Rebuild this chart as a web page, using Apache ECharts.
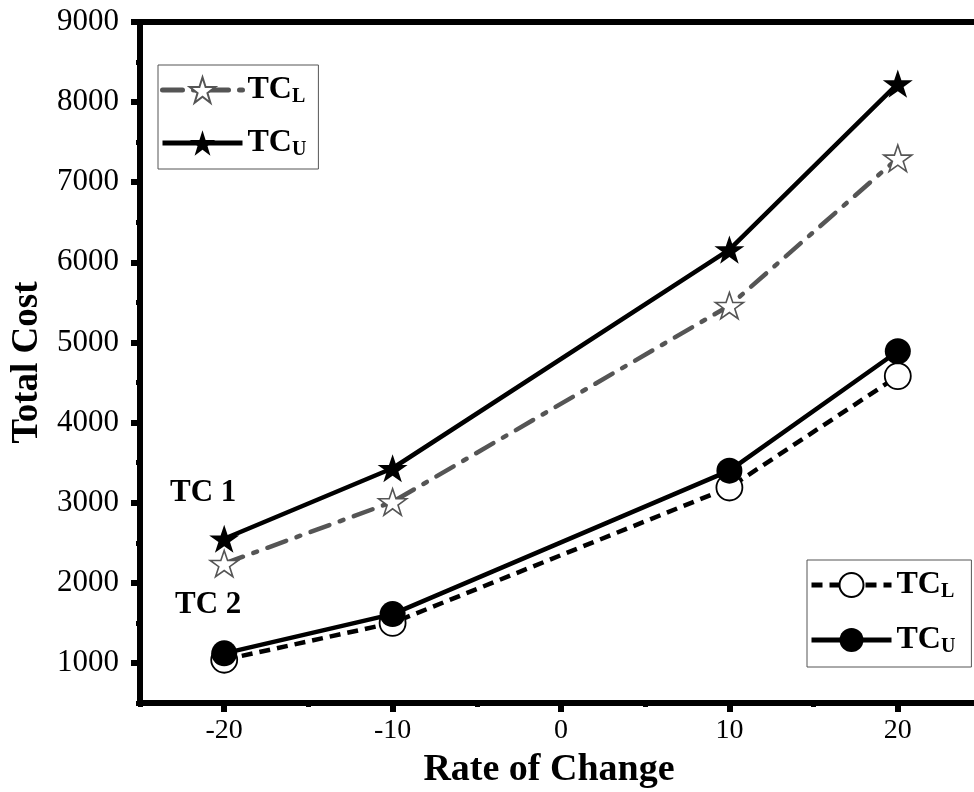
<!DOCTYPE html>
<html>
<head>
<meta charset="utf-8">
<script src="https://cdn.jsdelivr.net/npm/echarts@6/dist/echarts.min.js"></script>
<style>
  html, body { margin: 0; padding: 0; background: #fff; }
  #chart { width: 974px; height: 792px; }
</style>
</head>
<body>
<div id="chart"></div>
<script>
// data
var rates = [-20, -10, 10, 20];
var tc1Lower = [2240, 3010, 5460, 7300];
var tc1Upper = [2550, 3430, 6160, 8230];
var tc2Lower = [1040, 1500, 3190, 4580];
var tc2Upper = [1120, 1610, 3400, 4890];

// tick labels
var xMajor = [-20, -10, 0, 10, 20];
var xMinor = [-25, -15, -5, 5, 15, 25];
var yMajor = [1000, 2000, 3000, 4000, 5000, 6000, 7000, 8000, 9000];
var yMinor = [500, 1500, 2500, 3500, 4500, 5500, 6500, 7500, 8500];

var starPath = 'path://M50,0 L61.8,35.1 L98.9,35.1 L68.9,56.8 L80.3,91.9 L50,70.2 L19.7,91.9 L31.1,56.8 L1.1,35.1 L38.2,35.1 Z';
var serif = '"Liberation Serif", "DejaVu Serif", serif';

function pairs(vals) {
    var out = [];
    for (var i = 0; i < rates.length; i++) {
        out.push([rates[i], vals[i]]);
    }
    return out;
}

var legendText = {
    fontFamily: serif,
    rich: {
        b: { fontFamily: serif, fontWeight: 'bold', fontSize: 32, color: '#000' },
        s: { fontFamily: serif, fontWeight: 'bold', fontSize: 20, color: '#000', verticalAlign: 'bottom', padding: [14, 0, 0, 0] }
    }
};
function legendFmt(name) {
    return '{b|TC}{s|' + (name.indexOf('L') > -1 ? 'L' : 'U') + '}';
}

var myChart = echarts.init(document.getElementById('chart'));

var option = {
    backgroundColor: '#fff',
    animation: false,
    grid: {
        left: 140, top: 22, right: -8, bottom: 89,
        outerBoundsMode: 'none',
        show: true, borderColor: '#000', borderWidth: 6
    },
    legend: [{
        data: ['TC1 L', 'TC1 U'],
        orient: 'vertical',
        left: 158, top: 65,
        itemWidth: 80, itemHeight: 32, itemGap: 20,
        padding: [9, 12, 9, 2],
        borderColor: '#555', borderWidth: 1,
        lineStyle: { width: 5 },
        formatter: legendFmt,
        textStyle: legendText
    }, {
        data: ['TC2 L', 'TC2 U'],
        orient: 'vertical',
        left: 807, top: 560,
        itemWidth: 80, itemHeight: 30, itemGap: 22,
        padding: [9, 16, 10, 2],
        borderColor: '#555', borderWidth: 1,
        lineStyle: { width: 5 },
        formatter: legendFmt,
        textStyle: legendText
    }],
    xAxis: [{
        type: 'value', min: -25, max: 25,
        name: 'Rate of Change', nameLocation: 'middle', nameGap: 48,
        nameTextStyle: { fontFamily: serif, fontWeight: 'bold', fontSize: 38, color: '#000', padding: [0, 24, 0, 0] },
        axisLine: { show: true, onZero: false, lineStyle: { color: '#000', width: 6 } },
        axisTick: { show: true, customValues: xMajor, length: 9, lineStyle: { color: '#000', width: 6 } },
        axisLabel: { customValues: xMajor, margin: 14, fontFamily: serif, fontSize: 28, color: '#000' },
        splitLine: { show: false }
    }, {
        type: 'value', min: -25, max: 25, position: 'bottom',
        axisLine: { show: false, onZero: false },
        axisTick: { show: true, customValues: xMinor, length: 4, lineStyle: { color: '#000', width: 5 } },
        axisLabel: { show: false },
        splitLine: { show: false }
    }],
    yAxis: [{
        type: 'value', min: 500, max: 9000,
        name: 'Total Cost', nameLocation: 'middle', nameGap: 94,
        nameTextStyle: { fontFamily: serif, fontWeight: 'bold', fontSize: 37, color: '#000' },
        axisLine: { show: true, onZero: false, lineStyle: { color: '#000', width: 6 } },
        axisTick: { show: true, customValues: yMajor, length: 9, lineStyle: { color: '#000', width: 6 } },
        axisLabel: {
            customValues: yMajor, margin: 21, fontFamily: serif, fontSize: 31, color: '#000',
            formatter: function (v) { return String(v); }
        },
        splitLine: { show: false }
    }, {
        type: 'value', min: 500, max: 9000, position: 'left',
        axisLine: { show: false, onZero: false },
        axisTick: { show: true, customValues: yMinor, length: 4, lineStyle: { color: '#000', width: 5 } },
        axisLabel: { show: false },
        splitLine: { show: false }
    }],
    graphic: [
        { type: 'text', left: 170, top: 477, style: { text: 'TC 1', font: 'bold 31px ' + serif, fill: '#000' } },
        { type: 'text', left: 175, top: 589, style: { text: 'TC 2', font: 'bold 31px ' + serif, fill: '#000' } }
    ],
    series: [{
        name: 'TC1 L', type: 'line', data: pairs(tc1Lower),
        symbol: starPath, symbolSize: 28, symbolKeepAspect: true,
        lineStyle: { color: '#555', width: 4.5, type: [20, 11, 4, 11], cap: 'round' },
        itemStyle: { color: '#fff', borderColor: '#555', borderWidth: 1.6 },
        z: 2
    }, {
        name: 'TC1 U', type: 'line', data: pairs(tc1Upper),
        symbol: starPath, symbolSize: 30, symbolKeepAspect: true,
        lineStyle: { color: '#000', width: 4.5 },
        itemStyle: { color: '#000', borderColor: '#000', borderWidth: 0 },
        z: 3
    }, {
        name: 'TC2 L', type: 'line', data: pairs(tc2Lower),
        symbol: 'circle', symbolSize: 26,
        lineStyle: { color: '#000', width: 4.5, type: [11, 7] },
        itemStyle: { color: '#fff', borderColor: '#000', borderWidth: 1.8 },
        z: 2
    }, {
        name: 'TC2 U', type: 'line', data: pairs(tc2Upper),
        symbol: 'circle', symbolSize: 26,
        lineStyle: { color: '#000', width: 4.5 },
        itemStyle: { color: '#000', borderColor: '#000', borderWidth: 0 },
        z: 3
    }]
};

myChart.setOption(option);
</script>
</body>
</html>
